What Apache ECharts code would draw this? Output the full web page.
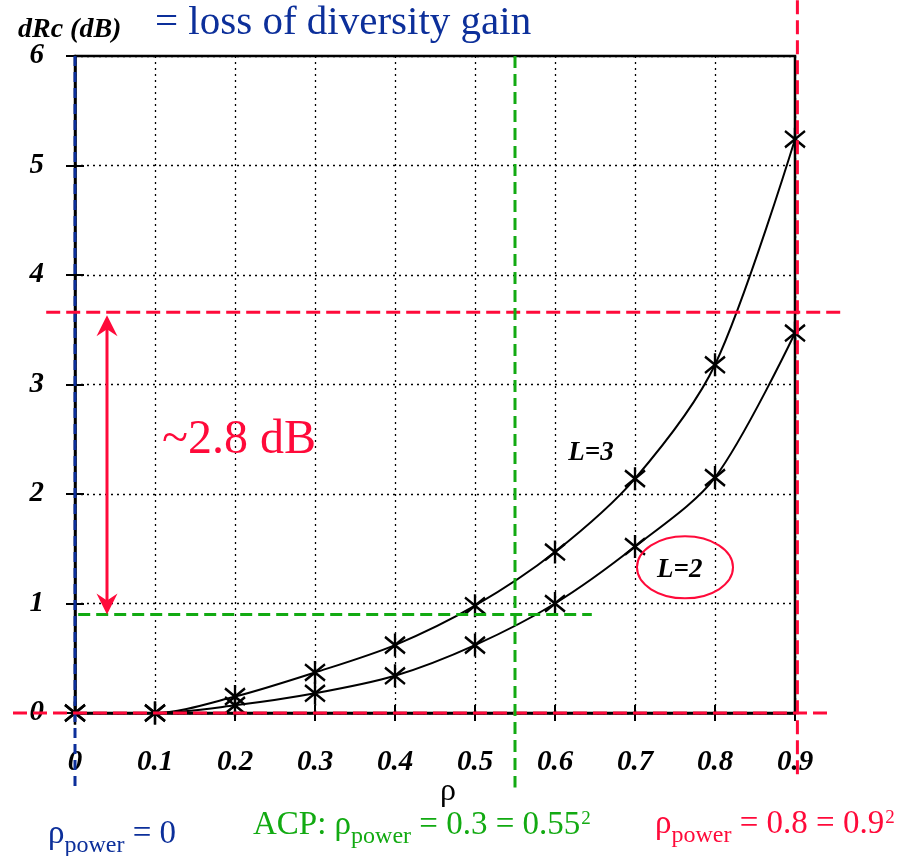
<!DOCTYPE html>
<html>
<head>
<meta charset="utf-8">
<script src="https://cdn.jsdelivr.net/npm/echarts@6/dist/echarts.min.js"></script>
<style>
  html, body { margin: 0; padding: 0; background: #ffffff; }
  #chart { width: 903px; height: 856px; }
</style>
</head>
<body>
<div id="chart"></div>
<script>
// Correlation coefficient ρ between diversity branches
const rho = [0, 0.1, 0.2, 0.3, 0.4, 0.5, 0.6, 0.7, 0.8, 0.9];
// Loss of diversity gain dRc (dB) for L = 3 and L = 2 branches
const lossL3 = [0, 0, 0.15, 0.37, 0.62, 0.98, 1.47, 2.14, 3.18, 5.24];
const lossL2 = [0, 0, 0.07, 0.18, 0.34, 0.62, 1.00, 1.52, 2.15, 3.47];
// Tick labels
const xTickLabels = ['0', '0.1', '0.2', '0.3', '0.4', '0.5', '0.6', '0.7', '0.8', '0.9'];
const yTickLabels = ['0', '1', '2', '3', '4', '5', '6'];
// Reference markers: ρ values (0, ACP 0.55, 0.9) and loss levels read at ρ = 0.9 and ρ = 0.55
const markerRho = [0, 0.55, 0.9];
const markerLoss = [0, 0.9, 3.66];

const SERIF = "'Liberation Serif', 'DejaVu Serif', serif";
const BLUE = '#0c2f9a';
const GREEN = '#12aa12';
const RED = '#ff0a3a';

const xMark = 'path://M0,2 L10,12 M10,2 L0,12 M5,0 L5,14';

const labelStyle = {
  fontFamily: SERIF, fontStyle: 'italic', fontWeight: 'bold', fontSize: 29, color: '#000'
};

const curve = (name, values) => ({
  name,
  type: 'line',
  data: rho.map((r, i) => [r, values[i]]),
  smooth: 0.3,
  symbol: xMark,
  symbolSize: [20, 23],
  showSymbol: true,
  lineStyle: { color: '#000', width: 2 },
  itemStyle: { color: '#000', borderColor: '#000', borderWidth: 2.5 },
  z: 5
});

const option = {
  animation: false,
  backgroundColor: '#ffffff',
  grid: {
    left: 75, right: 108, top: 56, bottom: 143,
    show: true, borderColor: '#000', borderWidth: 2.5, backgroundColor: 'transparent'
  },
  xAxis: [
    {
      type: 'value', min: 0, max: 0.9, interval: 0.1,
      axisLine: { show: true, onZero: false, lineStyle: { color: '#000', width: 2.5 } },
      axisTick: { show: true, inside: false, length: 8, lineStyle: { color: '#000', width: 2 } },
      axisLabel: Object.assign({
        margin: 35,
        formatter: v => xTickLabels[Math.round(v * 10)]
      }, labelStyle),
      splitLine: { show: true, lineStyle: { color: '#000', width: 1.3, type: [2, 4] } }
    },
    {
      type: 'value', min: 0, max: 0.9, interval: 0.1, position: 'bottom',
      axisLine: { show: false },
      axisTick: { show: true, inside: true, length: 8, lineStyle: { color: '#000', width: 2 } },
      axisLabel: { show: false },
      splitLine: { show: false }
    }
  ],
  yAxis: [
    {
      type: 'value', min: 0, max: 6, interval: 1,
      axisLine: { show: true, onZero: false, lineStyle: { color: '#000', width: 2.5 } },
      axisTick: { show: true, inside: false, length: 9, lineStyle: { color: '#000', width: 2 } },
      axisLabel: Object.assign({
        margin: 31,
        formatter: v => yTickLabels[Math.round(v)]
      }, labelStyle),
      splitLine: { show: true, lineStyle: { color: '#000', width: 1.3, type: [2, 4] } }
    },
    {
      type: 'value', min: 0, max: 6, interval: 1, position: 'left',
      axisLine: { show: false },
      axisTick: { show: true, inside: true, length: 9, lineStyle: { color: '#000', width: 2 } },
      axisLabel: { show: false },
      splitLine: { show: false }
    }
  ],
  series: [curve('L=3', lossL3), curve('L=2', lossL2)]
};

const chart = echarts.init(document.getElementById('chart'), null, { renderer: 'canvas' });
chart.setOption(option);

const px = (x, y) => chart.convertToPixel({ gridIndex: 0 }, [x, y]);

function dashed(a, b, color, dash) {
  const p1 = px(a[0], a[1]);
  const p2 = px(b[0], b[1]);
  return {
    type: 'line', z: 20, silent: true,
    shape: { x1: p1[0], y1: p1[1], x2: p2[0], y2: p2[1] },
    style: { stroke: color, lineWidth: 3, lineDash: dash }
  };
}

// Double-headed arrow spanning the two loss levels
const arrowX = 0.04;
const pTop = px(arrowX, markerLoss[2]);
const pBot = px(arrowX, markerLoss[1]);
const head = 21, half = 10.5, notch = 7;
const arrow = [
  {
    type: 'line', z: 20, silent: true,
    shape: { x1: pTop[0], y1: pTop[1] + 12, x2: pBot[0], y2: pBot[1] - 12 },
    style: { stroke: RED, lineWidth: 3 }
  },
  {
    type: 'polygon', z: 21, silent: true,
    shape: { points: [[pTop[0], pTop[1] + 3], [pTop[0] - half, pTop[1] + 3 + head], [pTop[0], pTop[1] + 3 + head - notch], [pTop[0] + half, pTop[1] + 3 + head]] },
    style: { fill: RED }
  },
  {
    type: 'polygon', z: 21, silent: true,
    shape: { points: [[pBot[0], pBot[1]], [pBot[0] - half, pBot[1] - head], [pBot[0], pBot[1] - head + notch], [pBot[0] + half, pBot[1] - head]] },
    style: { fill: RED }
  }
];

const ell = px(0.7625, 1.33);
const l3 = px(0.645, 2.37);
const l2 = px(0.756, 1.31);

function powerText(x, y, color, prefix, suffix, sup) {
  let txt = '';
  if (prefix) txt += '{a|' + prefix + '}';
  txt += '{a|ρ}{s|power}{a|' + suffix + '}';
  if (sup) txt += '{p|' + sup + '}';
  return {
    type: 'text', z: 30, silent: true,
    style: {
      x, y, text: txt, fill: color, align: 'left', verticalAlign: 'top',
      rich: {
        a: { fontFamily: SERIF, fontSize: 33, lineHeight: 36, verticalAlign: 'top', fill: color },
        s: { fontFamily: SERIF, fontSize: 24, lineHeight: 24, padding: [16, 0, 0, 0], verticalAlign: 'top', fill: color },
        p: { fontFamily: SERIF, fontSize: 19, lineHeight: 19, padding: [1, 0, 0, 1], verticalAlign: 'top', fill: color }
      }
    }
  };
}

const graphics = [
  // reference lines
  dashed([markerRho[0], 6], [markerRho[0], -0.70], BLUE, [10, 6]),
  dashed([-0.0775, markerLoss[0]], [0.941, markerLoss[0]], RED, [14, 6]),
  dashed([markerRho[2] + 0.003, 6.51], [markerRho[2] + 0.003, -0.57], RED, [14, 6]),
  dashed([-0.036, markerLoss[2]], [0.9625, markerLoss[2]], RED, [14, 6]),
  dashed([markerRho[1], 6], [markerRho[1], -0.68], GREEN, [12, 6]),
  dashed([0.004, markerLoss[1]], [0.646, markerLoss[1]], GREEN, [12, 6]),
  ...arrow,
  {
    type: 'text', z: 30, silent: true,
    style: { x: 162, y: 440, text: '~2.8 dB', fill: RED, font: '48px ' + SERIF, align: 'left', verticalAlign: 'middle' }
  },
  // curve labels
  {
    type: 'text', z: 30, silent: true,
    style: { x: l3[0], y: l3[1], text: 'L=3', fill: '#000', font: 'italic bold 27px ' + SERIF, align: 'center', verticalAlign: 'middle' }
  },
  {
    type: 'text', z: 30, silent: true,
    style: { x: l2[0], y: l2[1], text: 'L=2', fill: '#000', font: 'italic bold 27px ' + SERIF, align: 'center', verticalAlign: 'middle' }
  },
  {
    type: 'ellipse', z: 30, silent: true,
    shape: { cx: ell[0], cy: ell[1], rx: 48, ry: 31 },
    style: { fill: 'none', stroke: RED, lineWidth: 2 }
  },
  // axis titles
  {
    type: 'text', z: 30, silent: true,
    style: { x: 18, y: 30, text: 'dRc (dB)', fill: '#000', font: 'italic bold 28px ' + SERIF, align: 'left', verticalAlign: 'middle' }
  },
  {
    type: 'text', z: 30, silent: true,
    style: { x: 155, y: 23, text: '= loss of diversity gain', fill: BLUE, font: '41px ' + SERIF, align: 'left', verticalAlign: 'middle' }
  },
  {
    type: 'text', z: 30, silent: true,
    style: { x: 448, y: 792, text: 'ρ', fill: '#000', font: '32px ' + SERIF, align: 'center', verticalAlign: 'middle' }
  },
  // bottom notes
  powerText(48, 818, BLUE, '', ' = 0', ''),
  powerText(253, 809, GREEN, 'ACP: ', ' = 0.3 = 0.55', '2'),
  powerText(655, 808, RED, '', ' = 0.8 = 0.9', '2')
];

chart.setOption({ graphic: graphics });
</script>
</body>
</html>
